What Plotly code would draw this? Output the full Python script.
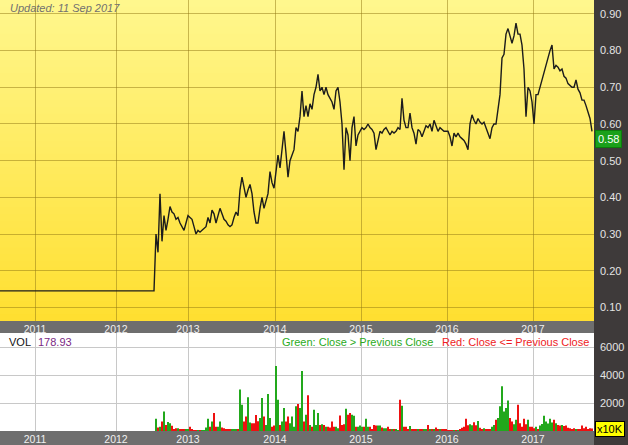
import plotly.graph_objects as go

# ---------------- data ----------------
updated_label = "Updated: 11 Sep 2017"
year_labels = ["2011", "2012", "2013", "2014", "2015", "2016", "2017"]
year_bars = [17.5, 58, 94, 137.5, 180.5, 223.5, 266.5]   # bar index where each year starts
price_ticks = [0.1, 0.2, 0.3, 0.4, 0.5, 0.6, 0.7, 0.8, 0.9]
vol_ticks = [2000, 4000, 6000]
flat_close = 0.145          # close before trading resumed
first_trade_bar = 75
last_close_label = "0.58"
last_volume_label = "178.93"

close = [
    0.145, 0.145, 0.145, 0.30, 0.25, 0.41, 0.28, 0.35, 0.31, 0.34,
    0.375, 0.36, 0.355, 0.34, 0.345, 0.33, 0.32, 0.31, 0.33, 0.35,
    0.345, 0.34, 0.32, 0.30, 0.31, 0.305, 0.31, 0.315, 0.32, 0.345,
    0.33, 0.365, 0.355, 0.33, 0.35, 0.37, 0.355, 0.34, 0.335, 0.325,
    0.32, 0.325, 0.345, 0.36, 0.35, 0.42, 0.455, 0.43, 0.40, 0.42,
    0.435, 0.41, 0.36, 0.33, 0.33, 0.37, 0.40, 0.37, 0.39, 0.41,
    0.47, 0.44, 0.425, 0.47, 0.515, 0.48, 0.53, 0.58, 0.52, 0.455,
    0.50, 0.515, 0.53, 0.59, 0.58, 0.62, 0.69, 0.62, 0.65, 0.62,
    0.655, 0.64, 0.68, 0.70, 0.735, 0.69, 0.70, 0.68, 0.70, 0.68,
    0.67, 0.66, 0.64, 0.69, 0.70, 0.66, 0.60, 0.475, 0.59, 0.57,
    0.50, 0.59, 0.62, 0.54, 0.57, 0.58, 0.59, 0.585, 0.59, 0.60,
    0.59, 0.585, 0.575, 0.53, 0.56, 0.58, 0.575, 0.585, 0.59, 0.58,
    0.57, 0.58, 0.575, 0.58, 0.59, 0.585, 0.67, 0.61, 0.59, 0.59,
    0.63, 0.59, 0.575, 0.545, 0.585, 0.58, 0.565, 0.58, 0.595, 0.59,
    0.60, 0.58, 0.61, 0.595, 0.58, 0.59, 0.585, 0.58, 0.58, 0.58,
    0.565, 0.54, 0.575, 0.565, 0.575, 0.565, 0.56, 0.555, 0.545, 0.53,
    0.60, 0.625, 0.61, 0.60, 0.615, 0.605, 0.60, 0.605, 0.59, 0.575,
    0.56, 0.59, 0.60, 0.60, 0.645, 0.68, 0.78, 0.79, 0.845, 0.86,
    0.84, 0.82, 0.84, 0.875, 0.845, 0.845, 0.815, 0.75, 0.62, 0.70,
    0.69, 0.66, 0.60, 0.68, 0.68, 0.70, 0.72, 0.745, 0.76, 0.78,
    0.80, 0.815, 0.75, 0.76, 0.755, 0.745, 0.75, 0.73, 0.725, 0.71,
    0.705, 0.70, 0.70, 0.72, 0.695, 0.685, 0.665, 0.665, 0.65, 0.635,
    0.615, 0.58,
]

volume = [  # units of 10K shares
    0, 0, 0, 870, 250, 300, 670, 1400, 430, 650,
    550, 380, 150, 200, 200, 100, 80, 80, 100, 80,
    300, 80, 60, 60, 60, 60, 60, 60, 250, 870,
    300, 670, 1280, 300, 300, 670, 250, 200, 150, 100,
    80, 150, 120, 150, 150, 2960, 1880, 680, 1040, 2410,
    600, 550, 550, 1150, 700, 920, 2360, 1040, 430, 2650,
    920, 310, 400, 4650, 2240, 430, 670, 1640, 670, 1040,
    550, 1040, 310, 1760, 1930, 1640, 4290, 670, 1160, 2550,
    430, 310, 1520, 430, 1280, 430, 480, 430, 310, 310,
    250, 670, 310, 310, 200, 1110, 430, 480, 1590, 1160,
    1280, 1160, 1090, 310, 310, 390, 310, 310, 870, 310,
    310, 150, 430, 390, 390, 390, 250, 200, 200, 310,
    150, 150, 150, 80, 60, 2240, 1810, 310, 310, 150,
    360, 150, 150, 150, 150, 150, 150, 150, 150, 430,
    150, 150, 150, 250, 80, 80, 80, 80, 80, 50,
    50, 50, 50, 50, 50, 145, 240, 310, 870, 410,
    480, 410, 630, 410, 720, 240, 145, 190, 145, 100,
    100, 310, 430, 800, 920, 1760, 3200, 1400, 1640, 2170,
    920, 670, 480, 800, 1880, 550, 310, 870, 480, 800,
    310, 310, 190, 310, 145, 390, 500, 1090, 670, 530,
    870, 600, 800, 550, 430, 390, 430, 360, 390, 240,
    190, 145, 190, 145, 80, 145, 390, 190, 310, 145,
    190, 178.93,
]

# ---------------- derived ----------------
W, H = 628, 445
GREEN, RED = "#22a81c", "#ee1010"

bars = list(range(first_trade_bar, first_trade_bar + len(close)))
line_x = [0] + bars
line_y = [flat_close] + close

vol_x = bars[:len(volume)]
vol_colors = []
prev = flat_close
for c in close[:len(volume)]:
    vol_colors.append(GREEN if c > prev else RED)
    prev = c

plot_right = 594 / W
price_dom = [(H - 321) / H, 1.0]
vol_dom = [(H - 431) / H, (H - 333) / H]

fig = go.Figure()
fig.add_trace(go.Scatter(x=line_x, y=line_y, mode="lines",
                         line=dict(color="#1c1c1c", width=1.4),
                         xaxis="x", yaxis="y", showlegend=False))
fig.add_trace(go.Bar(x=vol_x, y=volume, marker=dict(color=vol_colors, line=dict(width=0)),
                     xaxis="x2", yaxis="y2", showlegend=False))

font_family = "Liberation Sans, Arial, sans-serif"
axis_label_font = dict(family=font_family, size=10.5, color="#f0f0f0")
right_font = dict(family=font_family, size=11, color="#e4e4e4")

common_x = dict(domain=[0, plot_right], range=[0, 297], tickmode="array",
                tickvals=year_bars, ticktext=year_labels, ticks="",
                showgrid=True, zeroline=False, showline=False,
                tickfont=axis_label_font, fixedrange=True, automargin=False)

fig.update_layout(
    width=W, height=H,
    margin=dict(l=0, r=0, t=0, b=0, autoexpand=False),
    paper_bgcolor="white",
    plot_bgcolor="rgba(0,0,0,0)",
    bargap=0.25,
    font=dict(family=font_family),
    xaxis=dict(**common_x, anchor="y", gridcolor="rgba(145,120,20,0.5)"),
    yaxis=dict(domain=price_dom, range=[0.0628, 0.938], side="right", anchor="x",
               tickmode="array", tickvals=price_ticks,
               ticktext=["%.2f" % v for v in price_ticks],
               showgrid=True, gridcolor="rgba(145,120,20,0.5)", zeroline=False,
               ticks="", tickfont=right_font, ticklabelstandoff=5, automargin=False),
    xaxis2=dict(**common_x, anchor="y2", gridcolor="#c8c8c8"),
    yaxis2=dict(domain=vol_dom, range=[0, 7000], side="right", anchor="x2",
                tickmode="array", tickvals=vol_ticks,
                ticktext=[str(v) for v in vol_ticks],
                showgrid=True, gridcolor="#c8c8c8", zeroline=False,
                ticks="", tickfont=right_font, ticklabelstandoff=5, automargin=False),
)

shapes = []
# right dark panel
shapes.append(dict(type="rect", xref="paper", yref="paper", x0=plot_right, x1=1, y0=0, y1=1,
                   fillcolor="#3e3a3a", line=dict(width=0), layer="below"))
# grey date bands
shapes.append(dict(type="rect", xref="paper", yref="paper", x0=0, x1=plot_right,
                   y0=vol_dom[1], y1=price_dom[0],
                   fillcolor="#6e6e6e", line=dict(width=0), layer="below"))
shapes.append(dict(type="rect", xref="paper", yref="paper", x0=0, x1=plot_right,
                   y0=0, y1=vol_dom[0],
                   fillcolor="#6e6e6e", line=dict(width=0), layer="below"))
# yellow gradient background of the price panel
top_c = (255, 247, 142)
bot_c = (255, 223, 48)
n = 48
for i in range(n):
    t = (i + 0.5) / n
    col = tuple(int(round(bot_c[k] + (top_c[k] - bot_c[k]) * t)) for k in range(3))
    shapes.append(dict(type="rect", xref="x domain", yref="y domain",
                       x0=0, x1=1, y0=i / n, y1=min(1, (i + 1.3) / n),
                       fillcolor="rgb(%d,%d,%d)" % col, line=dict(width=0), layer="below"))
fig.update_layout(shapes=shapes)

def px_y(p):
    return 1 - p / H

ann = [
    dict(text="<i>%s</i>" % updated_label, x=8 / W, y=px_y(8), xanchor="left", yanchor="middle",
         font=dict(size=11, color="#707070")),
    dict(text="VOL", x=7 / W, y=px_y(342), xanchor="left", yanchor="middle",
         font=dict(size=11, color="#111111")),
    dict(text=last_volume_label, x=36 / W, y=px_y(342), xanchor="left", yanchor="middle",
         font=dict(size=11, color="#7a2a84")),
    dict(text="Green: Close > Previous Close", x=435 / W, y=px_y(342), xanchor="right",
         yanchor="middle", font=dict(size=11, color="#2aaa22")),
    dict(text="Red: Close <= Previous Close", x=591 / W, y=px_y(342), xanchor="right",
         yanchor="middle", font=dict(size=11, color="#ee1c25")),
    dict(text=last_close_label, x=595 / W, y=px_y(139.5), xanchor="left", yanchor="middle",
         font=dict(size=11, color="white"), bgcolor="#1aa01a", bordercolor="#0c7c0c",
         borderwidth=1, borderpad=2),
    dict(text="x10K", x=595 / W, y=px_y(429), xanchor="left", yanchor="middle",
         font=dict(size=11, color="black"), bgcolor="#ffff00", bordercolor="black",
         borderwidth=1, borderpad=1),
]
for a in ann:
    a.update(xref="paper", yref="paper", showarrow=False)
    a["font"]["family"] = font_family
fig.update_layout(annotations=ann)

fig.write_html("out.html", config={"displayModeBar": False},
               post_script="document.body.style.margin='0px';")
